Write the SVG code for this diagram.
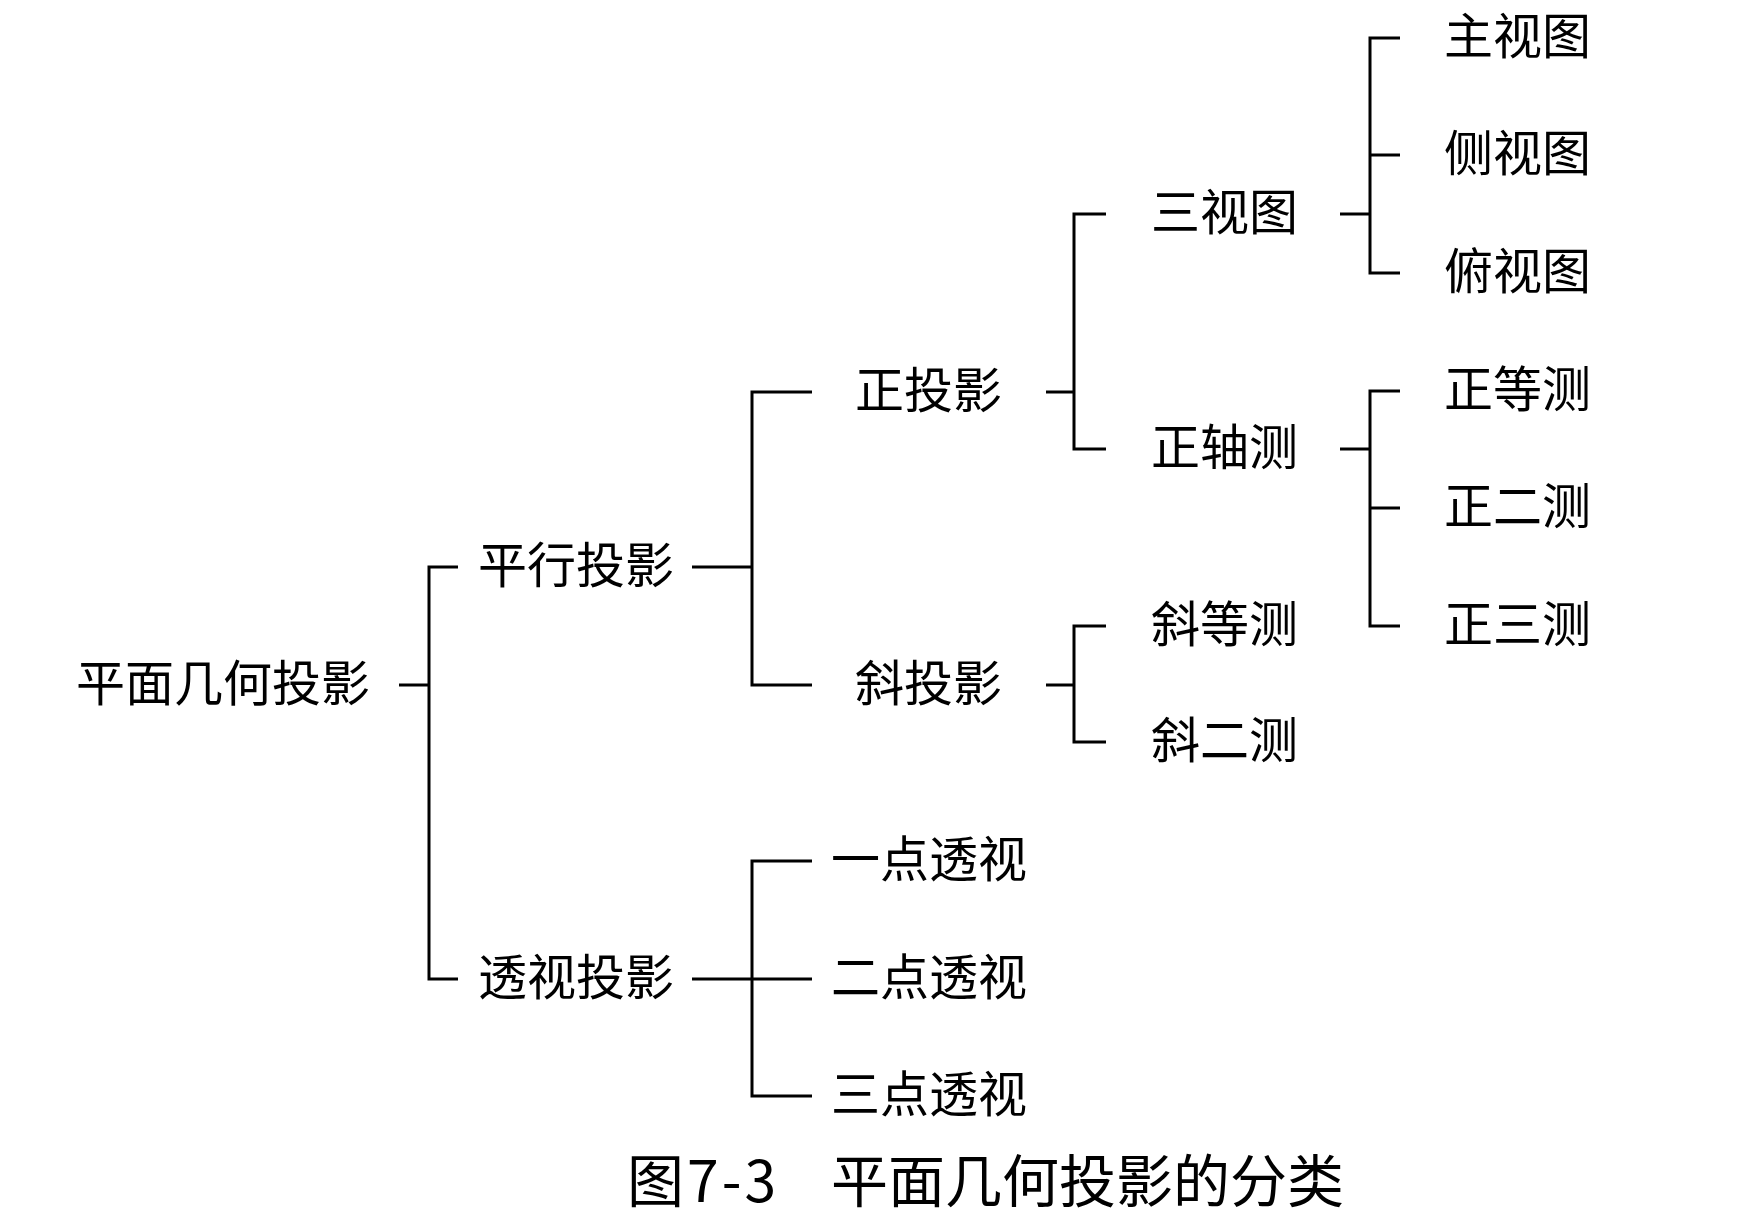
<svg xmlns="http://www.w3.org/2000/svg" width="1764" height="1227" viewBox="0 0 1764 1227">
<style>
text{font-family:"Noto Sans CJK SC","Noto Sans",sans-serif;fill:#000;font-size:49px}
.cap{font-size:57px}
#connectors path{fill:none;stroke:#000;stroke-width:3;stroke-linejoin:miter;stroke-linecap:butt}
</style>
<rect width="1764" height="1227" fill="#fff"/>
<g id="connectors">
<path d="M399 685H429"/>
<path d="M458 567H429V979H458"/>
<path d="M692 567H752"/>
<path d="M812 392H752V685H812"/>
<path d="M1046 392H1074"/>
<path d="M1106 214H1074V449H1106"/>
<path d="M1046 685H1074"/>
<path d="M1106 626H1074V742H1106"/>
<path d="M1340 214H1370"/>
<path d="M1400 38H1370V273H1400"/>
<path d="M1370 155H1400"/>
<path d="M1340 449H1370"/>
<path d="M1400 391H1370V626H1400"/>
<path d="M1370 508H1400"/>
<path d="M692 979H812"/>
<path d="M812 861H752V1096H812"/>
</g>
<g id="n-root"><text x="76" y="701">平面几何投影</text></g>
<g id="n-parallel"><text x="478" y="583">平行投影</text></g>
<g id="n-perspective"><text x="478" y="995">透视投影</text></g>
<g id="n-ortho"><text x="855" y="408">正投影</text></g>
<g id="n-oblique"><text x="855" y="701">斜投影</text></g>
<g id="n-threeview"><text x="1151" y="230">三视图</text></g>
<g id="n-axono"><text x="1151" y="465">正轴测</text></g>
<g id="n-obliso"><text x="1151" y="642">斜等测</text></g>
<g id="n-oblidi"><text x="1151" y="758">斜二测</text></g>
<g id="n-front"><text x="1444" y="54">主视图</text></g>
<g id="n-side"><text x="1444" y="171">侧视图</text></g>
<g id="n-top"><text x="1444" y="289">俯视图</text></g>
<g id="n-iso"><text x="1444" y="407">正等测</text></g>
<g id="n-di"><text x="1444" y="524">正二测</text></g>
<g id="n-tri"><text x="1444" y="642">正三测</text></g>
<g id="n-p1"><text x="831" y="877">一点透视</text></g>
<g id="n-p2"><text x="831" y="995">二点透视</text></g>
<g id="n-p3"><text x="831" y="1112">三点透视</text></g>
<g id="caption"><text class="cap" x="627" y="1202"><tspan letter-spacing="3">图7-3</tspan>　<tspan x="831">平面几何投影的分类</tspan></text></g>
</svg>
